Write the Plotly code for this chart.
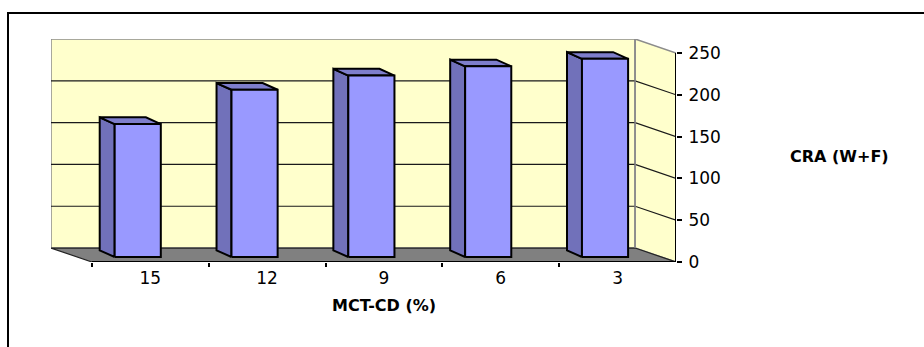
import plotly.graph_objects as go

# ---- data ----
categories = ["15", "12", "9", "6", "3"]
values = [159, 200, 217, 228, 237]
y_ticks = [0, 50, 100, 150, 200, 250]
x_title = "MCT-CD (%)"
y_title = "CRA (W+F)"

# ---- 3D styling parameters (in axis units) ----
N = len(categories)
DEPTH_X = 0.35      # back-wall shift in category units
DEPTH_Y = 16.7      # back-wall shift in value units
YMAX = 250
BAR_X0, BAR_X1 = 0.195, 0.59
BAR_LIFT = 6.0
BAR_DX, BAR_DY = -0.128, 8.0

WALL = "#FFFFCC"
FLOOR = "#808080"
FRONT = "#9999FF"
SIDE = "#7171BA"
TOP = "#7E7ECC"
EDGE_GRAY = "#8C8C8C"

FONT = "DejaVu Sans"

fig = go.Figure()

def poly(xs, ys, fill, line_color="black", width=1.5):
    fig.add_trace(go.Scatter(x=xs + [xs[0]], y=ys + [ys[0]], mode="lines",
                             fill="toself", fillcolor=fill,
                             line=dict(color=line_color, width=width),
                             hoverinfo="skip", showlegend=False, xaxis="x", yaxis="y"))

def seg(xs, ys, color="black", width=1.0):
    fig.add_trace(go.Scatter(x=xs, y=ys, mode="lines",
                             line=dict(color=color, width=width),
                             hoverinfo="skip", showlegend=False, xaxis="x", yaxis="y"))

# back wall
bx0, bx1 = -DEPTH_X, N - DEPTH_X
poly([bx0, bx1, bx1, bx0], [DEPTH_Y, DEPTH_Y, YMAX + DEPTH_Y, YMAX + DEPTH_Y], WALL, EDGE_GRAY, 1.5)
# right side wall
poly([bx1, N, N, bx1], [DEPTH_Y, 0, YMAX, YMAX + DEPTH_Y], WALL, EDGE_GRAY, 1.5)
# gridlines on walls
for v in y_ticks[1:-1]:
    seg([bx0, bx1, N], [v + DEPTH_Y, v + DEPTH_Y, v], "#1a1a1a", 1.2)
# floor
poly([0, N, bx1, bx0], [0, 0, DEPTH_Y, DEPTH_Y], FLOOR, "#222222", 1.2)
seg([bx1, bx1], [DEPTH_Y, YMAX + DEPTH_Y], EDGE_GRAY, 1.5)

# bars
for i, v in enumerate(values):
    x0, x1 = i + BAR_X0, i + BAR_X1
    b, t = BAR_LIFT, BAR_LIFT + v
    # left side face
    poly([x0, x0 + BAR_DX, x0 + BAR_DX, x0], [b, b + BAR_DY, t + BAR_DY, t], SIDE, "black", 2)
    # top face
    poly([x0, x1, x1 + BAR_DX, x0 + BAR_DX], [t, t, t + BAR_DY, t + BAR_DY], TOP, "black", 2)
    # front face
    poly([x0, x1, x1, x0], [b, b, t, t], FRONT, "black", 2)

# front axis lines
seg([0, N], [0, 0], "black", 2)
seg([N, N], [0, YMAX], "black", 2)

# dummy trace to activate the secondary x axis (boundary ticks)
fig.add_trace(go.Scatter(x=[0], y=[0], mode="markers", marker=dict(opacity=0),
                         hoverinfo="skip", showlegend=False, xaxis="x2", yaxis="y"))

fig.update_layout(
    width=924, height=347,
    margin=dict(l=51, r=248, t=39, b=85),
    paper_bgcolor="white", plot_bgcolor="white",
    showlegend=False,
    font=dict(family=FONT, size=17, color="black"),
    xaxis=dict(range=[-DEPTH_X, N], tickvals=[i + 0.5 for i in range(N)],
               ticktext=categories, ticks="", showgrid=False, zeroline=False,
               showline=False, ticklabelstandoff=4, fixedrange=True,
               tickfont=dict(family=FONT, size=17)),
    xaxis2=dict(range=[-DEPTH_X, N], overlaying="x", anchor="y", side="bottom",
                tickvals=list(range(N)), ticks="outside", ticklen=4, tickwidth=1.5,
                tickcolor="black", showticklabels=False, showgrid=False,
                zeroline=False, showline=False, fixedrange=True),
    yaxis=dict(range=[0, YMAX + DEPTH_Y], side="right", tickvals=y_ticks,
               ticks="outside", ticklen=5, tickwidth=1.5, tickcolor="black",
               showgrid=False, zeroline=False, showline=False,
               ticklabelstandoff=3, fixedrange=True,
               tickfont=dict(family=FONT, size=17)),
    annotations=[
        dict(text=x_title, x=N / 2, xref="x", y=-0.197, yref="paper",
             showarrow=False, xanchor="center", yanchor="middle",
             font=dict(family=FONT, size=16, color="black", weight="bold")),
        dict(text=y_title, x=1.2608, xref="paper", y=0.471, yref="paper",
             showarrow=False, xanchor="center", yanchor="middle",
             font=dict(family=FONT, size=16, color="black", weight="bold")),
    ],
    shapes=[
        dict(type="rect", xref="paper", yref="paper",
             x0=-0.0688, x1=1.45, y0=-0.5, y1=1.1166,
             line=dict(color="black", width=2), fillcolor="rgba(0,0,0,0)",
             layer="below"),
    ],
)

fig.write_html("out.html")
